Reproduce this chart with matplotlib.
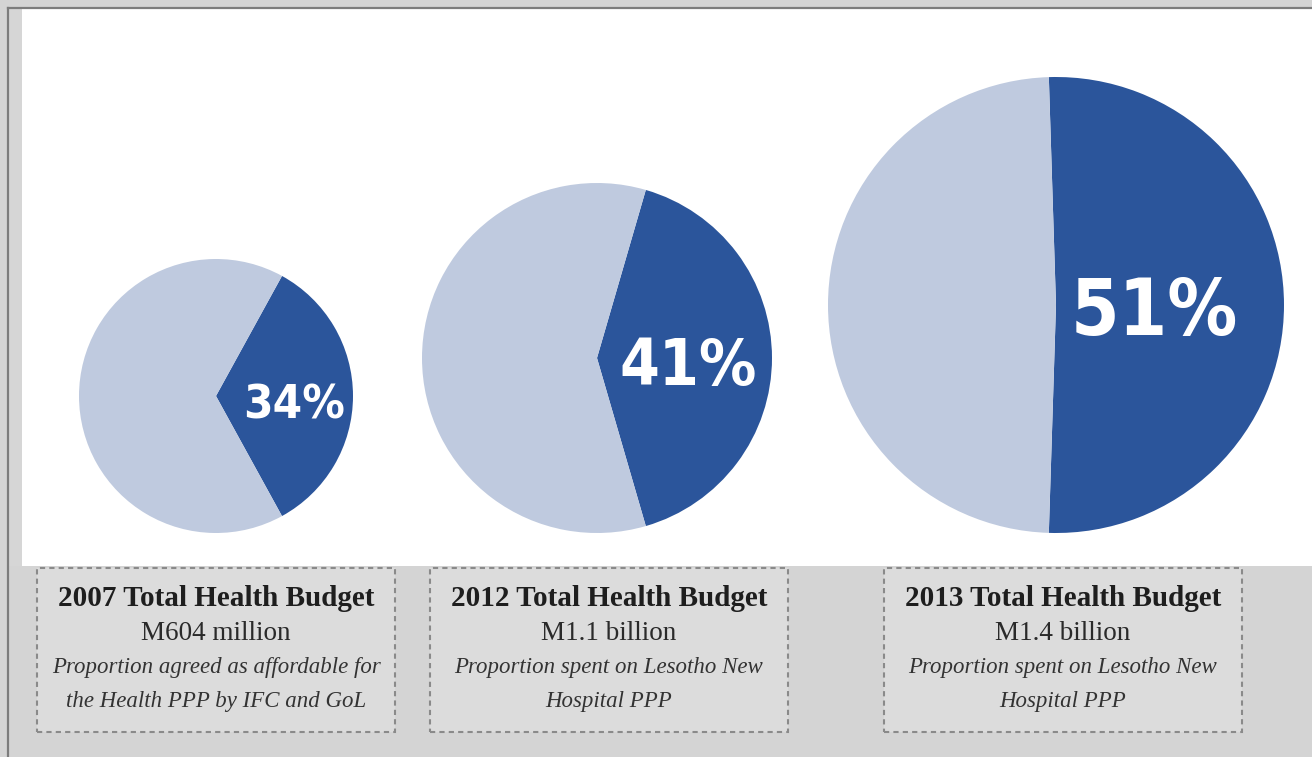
import matplotlib
matplotlib.use('Agg')
import matplotlib.pyplot as plt
from matplotlib.patches import Rectangle

# data
years = ['2007', '2012', '2013']
shares = [34, 41, 51]
budgets = ['M604 million', 'M1.1 billion', 'M1.4 billion']
notes = [['Proportion agreed as affordable for', 'the Health PPP by IFC and GoL'],
         ['Proportion spent on Lesotho New', 'Hospital PPP'],
         ['Proportion spent on Lesotho New', 'Hospital PPP']]

# layout (pixels, measured from top-left)
W, H = 1312, 757
pie_x = [216, 597, 1056]
pie_r = [137, 175, 228]
pie_bottom = 533
box_left = [37, 430, 884]
box_w = 358
box_top, box_bot = 568, 732

dark = '#2b559b'
light = '#bfcadf'

fig = plt.figure(figsize=(W / 100, H / 100), dpi=100, facecolor='#d4d4d4')
ax = fig.add_axes([0, 0, 1, 1])

def Y(yp):
    return H - yp

# frame
ax.add_patch(Rectangle((8, 0), W, Y(8), facecolor='#d6d6d6', edgecolor='none'))
ax.plot([8, 8], [0, Y(8)], color='#7c7c7c', lw=1.6)
ax.plot([8, W], [Y(8), Y(8)], color='#7c7c7c', lw=1.6)
ax.add_patch(Rectangle((22, Y(566)), W - 22, 566 - 9, facecolor='white', edgecolor='none'))
ax.add_patch(Rectangle((9, 0), W, Y(566), facecolor='#d4d4d4', edgecolor='none'))

for i in range(3):
    cx, r = pie_x[i], pie_r[i]
    cy = Y(pie_bottom - r)
    s = shares[i]
    ax.pie([s, 100 - s], colors=[dark, light], startangle=-s * 3.6 / 2,
           counterclock=True, center=(cx, cy), radius=r,
           wedgeprops=dict(linewidth=0))
    ax.text(cx + r * [0.57, 0.52, 0.43][i], cy - [10, 9, 8][i], f'{s}%', color='white',
            ha='center', va='center', fontsize=[34, 46, 56][i],
            fontweight='bold', fontstretch='condensed', family='DejaVu Sans')

    # caption box
    bx = box_left[i]
    ax.add_patch(Rectangle((bx, Y(box_bot)), box_w, box_bot - box_top,
                           facecolor='#dcdcdc', edgecolor='#8a8a8a', lw=1.5,
                           linestyle=(0, (2.5, 2))))
    tx = bx + box_w / 2
    ax.text(tx, Y(599), f'{years[i]} Total Health Budget', ha='center', va='center',
            fontsize=21, fontweight='bold', family='Liberation Serif', color='#1e1e1e')
    ax.text(tx, Y(633), budgets[i], ha='center', va='center',
            fontsize=19.5, family='Liberation Serif', color='#2a2a2a')
    for j, line in enumerate(notes[i]):
        ax.text(tx, Y(667 + 34 * j), line, ha='center', va='center',
                fontsize=16.5, style='italic', family='Liberation Serif', color='#333333')

ax.set_xlim(0, W)
ax.set_ylim(0, H)
ax.set_aspect('auto')
ax.axis('off')

fig.savefig('out.png', dpi=100, facecolor=fig.get_facecolor())
